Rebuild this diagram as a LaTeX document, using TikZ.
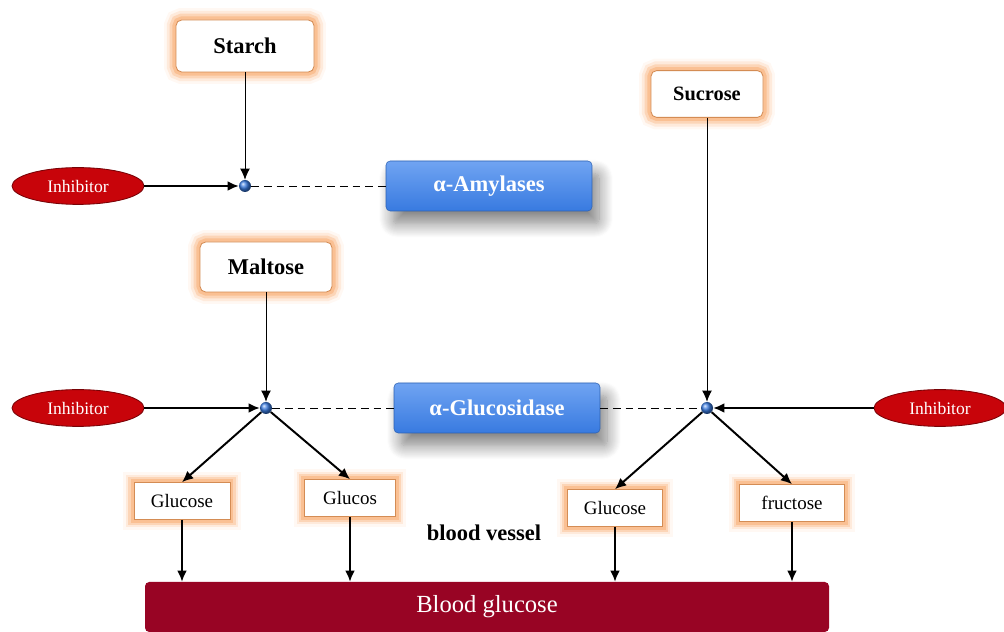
\documentclass[tikz,border=0pt]{standalone}
\usepackage{fontspec}
\setmainfont{Liberation Serif}
\usetikzlibrary{shapes.geometric,arrows.meta,shadows.blur}
\definecolor{glow}{RGB}{250,185,135}
\definecolor{glowedge}{RGB}{212,140,84}
\definecolor{inhred}{RGB}{200,4,10}
\definecolor{bloodred}{RGB}{152,4,36}
\definecolor{enzblue}{RGB}{56,122,224}
\definecolor{enzlight}{RGB}{112,164,242}

\begin{document}
\begin{tikzpicture}[
    >={Latex[length=2.8mm,width=2.5mm]},
    source/.style={rectangle, rounded corners=4pt, fill=white, draw=glowedge, line width=0.6pt,
      preaction={draw=glow!10, line width=17pt}, preaction={draw=glow!30, line width=13pt},
      preaction={draw=glow!60, line width=9pt}, preaction={draw=glow!90, line width=5pt},
      font=\fontsize{16}{18}\selectfont\bfseries},
    product/.style={rectangle, fill=white, draw=glowedge, line width=0.6pt,
      preaction={draw=glow!10, line width=15pt}, preaction={draw=glow!30, line width=11pt},
      preaction={draw=glow!60, line width=8pt}, preaction={draw=glow!90, line width=4.5pt},
      minimum height=0.92cm, font=\fontsize{13.5}{15}\selectfont},
    enzyme/.style={rectangle, rounded corners=3pt, top color=enzlight, bottom color=enzblue,
      draw=enzblue!80!black, line width=0.4pt, text=white, minimum width=5.15cm, minimum height=1.25cm,
      blur shadow={shadow xshift=5pt, shadow yshift=-9pt, shadow blur radius=10pt,
        shadow blur steps=14, shadow opacity=50},
      font=\fontsize{16}{18}\selectfont\bfseries},
    inhib/.style={ellipse, fill=inhred, draw=inhred!60!black, line width=0.6pt, inner sep=0pt,
      minimum width=3.3cm, minimum height=0.92cm, text=white, font=\fontsize{12.5}{14}\selectfont},
    junction/.style={circle, inner sep=0pt, minimum size=0.3cm, ball color=enzblue},
    thinline/.style={line width=0.7pt},
    thickline/.style={line width=1.4pt},
    dashline/.style={line width=0.7pt, dash pattern=on 5.5pt off 3.5pt}
  ]
  \useasboundingbox (0,0) rectangle (25.1,-15.8);

  % upper level: starch
  \node[inhib] (inh1) at (1.95,-4.65) {Inhibitor};
  \node[junction, right of=inh1, xshift=3.175cm] (dot1) {};
  \node[enzyme, right of=dot1, xshift=5.1cm] (amyl) {α-Amylases};
  \node[source, above of=dot1, yshift=2.5cm, minimum width=3.45cm, minimum height=1.3cm] (starch) {Starch};

  % lower level: maltose and sucrose
  \node[inhib, below of=inh1, yshift=-4.55cm] (inh2) {Inhibitor};
  \node[junction, right of=inh2, xshift=3.7cm] (dot2) {};
  \node[enzyme, right of=dot2, xshift=4.775cm] (gluc) {α-Glucosidase};
  \node[junction, right of=gluc, xshift=4.25cm] (dot3) {};
  \node[inhib, right of=dot3, xshift=4.825cm] (inh3) {Inhibitor};
  \node[source, above of=dot2, yshift=2.525cm, minimum width=3.3cm, minimum height=1.25cm] (maltose) {Maltose};
  \node[source, above of=dot3, yshift=6.85cm, minimum width=2.8cm, minimum height=1.17cm,
    font=\fontsize{14.5}{16}\selectfont\bfseries] (sucrose) {Sucrose};

  % products
  \node[product, below of=dot2, xshift=-2.1cm, yshift=-1.325cm, minimum width=2.4cm] (glc1) {Glucose};
  \node[product, below of=dot2, xshift=2.1cm, yshift=-1.25cm, minimum width=2.28cm] (glc2) {Glucos};
  \node[product, below of=dot3, xshift=-2.3cm, yshift=-1.5cm, minimum width=2.38cm] (glc3) {Glucose};
  \node[product, below of=dot3, xshift=2.125cm, yshift=-1.375cm, minimum width=2.62cm] (fru) {fructose};

  \node[below of=gluc, xshift=-0.325cm, yshift=-2.125cm, font=\fontsize{16}{18}\selectfont\bfseries] (vessel) {blood vessel};
  \node[rectangle, rounded corners=3pt, fill=bloodred, text=white, minimum width=17.1cm, minimum height=1.25cm,
    below of=gluc, xshift=-0.25cm, yshift=-3.975cm, font=\fontsize{17.5}{20}\selectfont] (blood) {Blood glucose};

  \draw[->,thinline] (starch) -- (dot1);
  \draw[->,thickline] (inh1) -- (dot1);
  \draw[dashline] (dot1) -- (amyl);

  \draw[->,thinline] (maltose) -- (dot2);
  \draw[->,thickline] (inh2) -- (dot2);
  \draw[dashline] (dot2) -- (gluc);
  \draw[dashline] (gluc) -- (dot3);
  \draw[->,thinline] (sucrose) -- (dot3);
  \draw[->,thickline] (inh3) -- (dot3);

  \draw[->,thickline] (dot2) -- (glc1.north);
  \draw[->,thickline] (dot2) -- (glc2.north);
  \draw[->,thickline] (dot3) -- (glc3.north);
  \draw[->,thickline] (dot3) -- (fru.north);

  \draw[->,thickline] (glc1) -- (glc1 |- blood.north);
  \draw[->,thickline] (glc2) -- (glc2 |- blood.north);
  \draw[->,thickline] (glc3) -- (glc3 |- blood.north);
  \draw[->,thickline] (fru) -- (fru |- blood.north);
\end{tikzpicture}
\end{document}
